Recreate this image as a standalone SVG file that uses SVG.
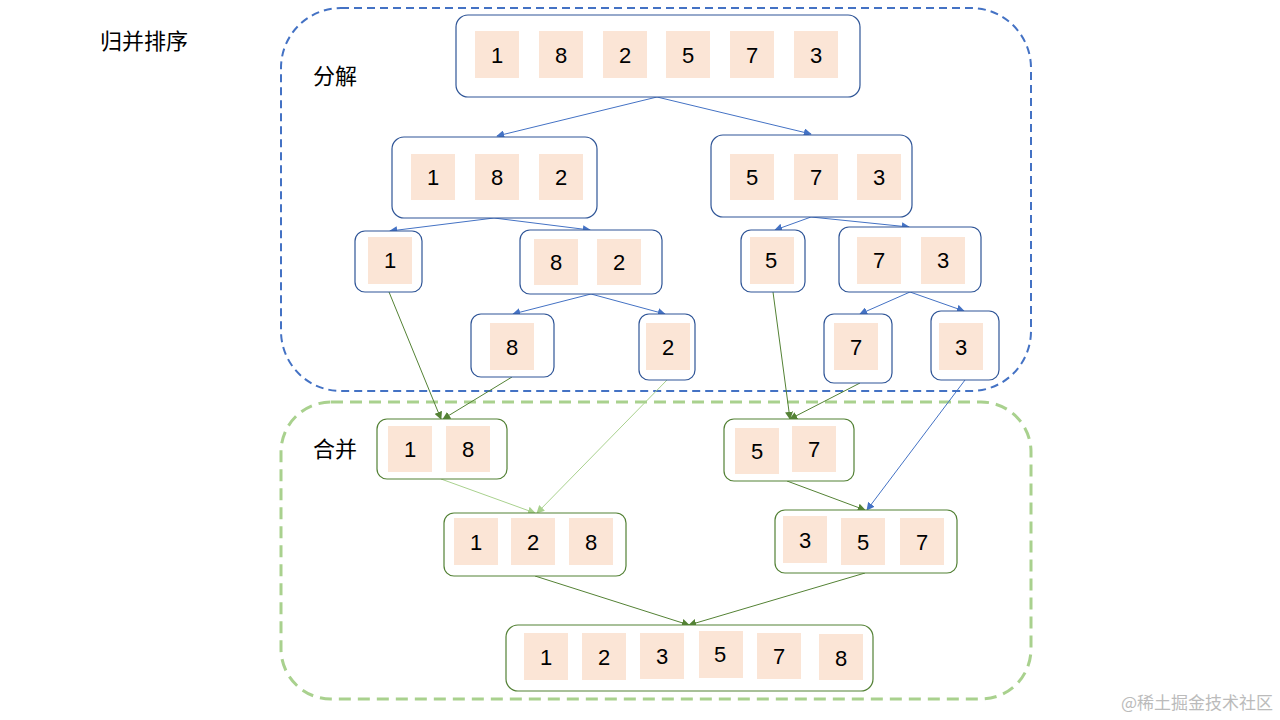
<svg xmlns="http://www.w3.org/2000/svg" width="1280" height="720" viewBox="0 0 1280 720">
<style>
.n{fill:#fff;stroke:#2f5597;stroke-width:1.2}
.g{fill:#fff;stroke:#538135;stroke-width:1.2}
.c{fill:#fbe5d6}
.t{font-family:"Liberation Sans",Arial,sans-serif;font-size:22px;text-anchor:middle;fill:#000}
.z{font-family:"Noto Sans CJK SC",sans-serif;font-size:22px;fill:#000}
.b{stroke:#4472c4;stroke-width:1;fill:none;marker-end:url(#ab)}
.d{stroke:#548235;stroke-width:1;fill:none;marker-end:url(#ad)}
.l{stroke:#a9d18e;stroke-width:1;fill:none;marker-end:url(#al)}
</style>
<defs>
<marker id="ab" viewBox="0 0 10 10" refX="9" refY="5" markerWidth="8" markerHeight="8" orient="auto" markerUnits="userSpaceOnUse"><path d="M0,0L10,5L0,10z" fill="#4472c4"/></marker>
<marker id="ad" viewBox="0 0 10 10" refX="9" refY="5" markerWidth="8" markerHeight="8" orient="auto" markerUnits="userSpaceOnUse"><path d="M0,0L10,5L0,10z" fill="#548235"/></marker>
<marker id="al" viewBox="0 0 10 10" refX="9" refY="5" markerWidth="8" markerHeight="8" orient="auto" markerUnits="userSpaceOnUse"><path d="M0,0L10,5L0,10z" fill="#a9d18e"/></marker>
</defs>
<rect width="1280" height="720" fill="#fff"/>
<rect x="281" y="8" width="750" height="383" rx="60" fill="none" stroke="#4472c4" stroke-width="2" stroke-dasharray="8,5"/>
<rect x="281" y="402" width="750" height="297" rx="50" fill="none" stroke="#a9d18e" stroke-width="3" stroke-dasharray="12,7"/>
<text class="z" x="100" y="49">归并排序</text>
<text class="z" x="313" y="84">分解</text>
<text class="z" x="313" y="457">合并</text>
<g id="connectors">
<path class="b" d="M657,97L497,136"/><path class="b" d="M657,97L811,134"/>
<path class="b" d="M494,218L390,231"/><path class="b" d="M494,218L590,230"/>
<path class="b" d="M591,294L513,314"/><path class="b" d="M591,294L665,314"/>
<path class="b" d="M811,217L775,230"/><path class="b" d="M811,217L909,227"/>
<path class="b" d="M910,292L860,314"/><path class="b" d="M910,292L964,311"/>
<path class="b" d="M965,380L867,510"/>
<path class="d" d="M389,292L441,419"/><path class="d" d="M512,377L443,419"/>
<path class="d" d="M773,292L790,419"/><path class="d" d="M860,383L790,419"/>
<path class="d" d="M787,481L865,510"/>
<path class="d" d="M535,576L689,625"/><path class="d" d="M865,573L689,625"/>
<path class="l" d="M441,479L535,513"/><path class="l" d="M667,380L537,513"/>
</g>
<g id="n0"><rect class="n" x="456" y="15" width="404" height="82" rx="12"/>
<rect class="c" x="475" y="31" width="44" height="47"/><rect class="c" x="539" y="31" width="44" height="47"/><rect class="c" x="603" y="31" width="44" height="47"/><rect class="c" x="666" y="31" width="44" height="47"/><rect class="c" x="730" y="31" width="44" height="47"/><rect class="c" x="794" y="31" width="44" height="47"/>
<text class="t" x="497" y="63">1</text><text class="t" x="561" y="63">8</text><text class="t" x="625" y="63">2</text><text class="t" x="688" y="63">5</text><text class="t" x="752" y="63">7</text><text class="t" x="816" y="63">3</text></g>
<g id="n1"><rect class="n" x="392" y="137" width="205" height="81" rx="12"/>
<rect class="c" x="411" y="154" width="44" height="46"/><rect class="c" x="475" y="154" width="44" height="46"/><rect class="c" x="539" y="154" width="44" height="46"/>
<text class="t" x="433" y="185">1</text><text class="t" x="497" y="185">8</text><text class="t" x="561" y="185">2</text></g>
<g id="n2"><rect class="n" x="711" y="135" width="201" height="82" rx="12"/>
<rect class="c" x="730" y="154" width="44" height="46"/><rect class="c" x="794" y="154" width="44" height="46"/><rect class="c" x="857" y="154" width="44" height="46"/>
<text class="t" x="752" y="185">5</text><text class="t" x="816" y="185">7</text><text class="t" x="879" y="185">3</text></g>
<g id="n3"><rect class="n" x="355" y="231" width="67" height="61" rx="10"/><rect class="c" x="368" y="237" width="44" height="47"/><text class="t" x="390" y="268">1</text></g>
<g id="n4"><rect class="n" x="520" y="230" width="142" height="64" rx="10"/>
<rect class="c" x="534" y="239" width="44" height="46"/><rect class="c" x="597" y="239" width="44" height="46"/>
<text class="t" x="556" y="270">8</text><text class="t" x="619" y="270">2</text></g>
<g id="n5"><rect class="n" x="741" y="230" width="64" height="62" rx="10"/><rect class="c" x="750" y="237" width="44" height="47"/><text class="t" x="771" y="268">5</text></g>
<g id="n6"><rect class="n" x="839" y="227" width="142" height="65" rx="10"/>
<rect class="c" x="857" y="237" width="44" height="47"/><rect class="c" x="921" y="237" width="44" height="47"/>
<text class="t" x="879" y="268">7</text><text class="t" x="943" y="268">3</text></g>
<g id="n7"><rect class="n" x="471" y="314" width="83" height="63" rx="10"/><rect class="c" x="490" y="323" width="44" height="47"/><text class="t" x="512" y="355">8</text></g>
<g id="n8"><rect class="n" x="639" y="314" width="56" height="66" rx="10"/><rect class="c" x="646" y="323" width="44" height="47"/><text class="t" x="668" y="355">2</text></g>
<g id="n9"><rect class="n" x="824" y="314" width="68" height="69" rx="10"/><rect class="c" x="834" y="323" width="44" height="47"/><text class="t" x="856" y="355">7</text></g>
<g id="n10"><rect class="n" x="931" y="311" width="68" height="69" rx="10"/><rect class="c" x="939" y="323" width="44" height="47"/><text class="t" x="961" y="355">3</text></g>
<g id="m1"><rect class="g" x="377" y="419" width="130" height="60" rx="10"/>
<rect class="c" x="388" y="426" width="44" height="46"/><rect class="c" x="446" y="426" width="44" height="46"/>
<text class="t" x="410" y="457">1</text><text class="t" x="468" y="457">8</text></g>
<g id="m2"><rect class="g" x="724" y="419" width="130" height="62" rx="10"/>
<rect class="c" x="735" y="428" width="44" height="46"/><rect class="c" x="792" y="426" width="44" height="46"/>
<text class="t" x="757" y="459">5</text><text class="t" x="814" y="457">7</text></g>
<g id="m3"><rect class="g" x="444" y="513" width="182" height="63" rx="10"/>
<rect class="c" x="454" y="518" width="44" height="47"/><rect class="c" x="511" y="518" width="44" height="47"/><rect class="c" x="569" y="518" width="44" height="47"/>
<text class="t" x="476" y="550">1</text><text class="t" x="533" y="550">2</text><text class="t" x="591" y="550">8</text></g>
<g id="m4"><rect class="g" x="775" y="510" width="182" height="63" rx="10"/>
<rect class="c" x="783" y="516" width="44" height="47"/><rect class="c" x="841" y="518" width="44" height="47"/><rect class="c" x="900" y="518" width="44" height="47"/>
<text class="t" x="805" y="548">3</text><text class="t" x="863" y="550">5</text><text class="t" x="922" y="550">7</text></g>
<g id="m5"><rect class="g" x="506" y="625" width="367" height="66" rx="12"/>
<rect class="c" x="524" y="633" width="44" height="47"/><rect class="c" x="582" y="633" width="44" height="47"/><rect class="c" x="640" y="633" width="44" height="46"/><rect class="c" x="699" y="631" width="44" height="47"/><rect class="c" x="757" y="633" width="44" height="46"/><rect class="c" x="819" y="634" width="44" height="46"/>
<text class="t" x="546" y="665">1</text><text class="t" x="604" y="665">2</text><text class="t" x="662" y="664">3</text><text class="t" x="720" y="662">5</text><text class="t" x="779" y="664">7</text><text class="t" x="841" y="666">8</text></g>
<text x="1273" y="709" text-anchor="end" font-family="Noto Sans CJK SC,sans-serif" font-size="17" fill="#bbb">@稀土掘金技术社区</text>
</svg>
